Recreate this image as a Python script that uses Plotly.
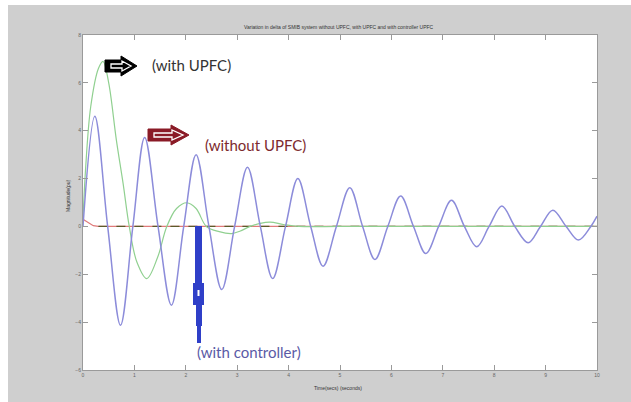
import plotly.graph_objects as go

# ---------------- data ----------------
t_blue = [0, 0.23, 0.48, 0.73, 0.97, 1.2, 1.46, 1.72, 1.96, 2.2, 2.45, 2.7, 2.95, 3.2,
          3.45, 3.69, 3.94, 4.18, 4.43, 4.67, 4.93, 5.19, 5.44, 5.68, 5.93, 6.18, 6.43,
          6.67, 6.92, 7.17, 7.42, 7.66, 7.9, 8.15, 8.4, 8.66, 8.9, 9.14, 9.4, 9.64, 9.88, 10]
v_blue = [0, 4.6, 0, -4.13, 0, 3.72, 0, -3.29, 0, 3.0, 0, -2.64, 0, 2.47,
          0, -2.18, 0, 2.0, 0, -1.66, 0, 1.62, 0, -1.38, 0, 1.27, 0,
          -1.13, 0, 1.09, 0, -0.85, 0, 0.85, 0, -0.68, 0, 0.68, 0, -0.57, 0, 0.43]

t_green = [0, 0.05, 0.15, 0.3, 0.39, 0.5, 0.65, 0.78, 0.9, 1.05, 1.24, 1.45, 1.63, 1.82,
           2.02, 2.2, 2.4, 2.65, 2.89, 3.05, 3.25, 3.45, 3.64, 3.9, 4.2, 5, 6, 7, 8, 9, 10]
v_green = [0.3, 2.4, 5.0, 6.6, 6.9, 6.0, 3.6, 1.8, 0, -1.5, -2.18, -1.3, 0, 0.75,
           0.99, 0.75, 0, -0.22, -0.3, -0.2, 0, 0.13, 0.18, 0.08, 0, 0, 0, 0, 0, 0, 0]

t_red = [0, 0.1, 0.2, 0.3, 1, 2, 3, 4, 5, 6, 7, 8, 9, 10]
v_red = [0.3, 0.15, 0.03, 0, 0, 0, 0, 0, 0, 0, 0, 0, 0, 0]

t_ctrl = [0.3, 10]
v_ctrl = [0, 0]

x_ticks = [0, 1, 2, 3, 4, 5, 6, 7, 8, 9, 10]
y_ticks = [-6, -4, -2, 0, 2, 4, 6, 8]

title_text = "Variation in delta of SMIB system without UPFC, with UPFC and with controller UPFC"
x_title = "Time(secs) (seconds)"
y_title = "Magnitude(pu)"

# ---------------- figure ----------------
W, H = 631, 402
L, R, T, B = 83, 34, 35, 32
pw, ph = W - L - R, H - T - B


def px(xp):
    return (xp - L) / pw


def py(yp):
    return (H - B - yp) / ph


fig = go.Figure()
fig.add_trace(go.Scatter(x=t_red, y=v_red, mode="lines",
                         line=dict(color="#e07a7a", width=1.2)))
fig.add_trace(go.Scatter(x=t_ctrl, y=v_ctrl, mode="lines",
                         line=dict(color="#5b5b2a", width=1.2, dash="dash")))
fig.add_trace(go.Scatter(x=t_green, y=v_green, mode="lines", line_shape="spline",
                         line=dict(color="#90d090", width=1.2)))
fig.add_trace(go.Scatter(x=t_blue, y=v_blue, mode="lines", line_shape="spline",
                         line=dict(color="#8c8cda", width=1.5)))

axis_common = dict(showgrid=False, zeroline=False, showline=True, linecolor="#9a9a9a",
                   linewidth=1, mirror="ticks", ticks="inside", ticklen=5, automargin=False,
                   tickcolor="#9a9a9a", tickfont=dict(size=5, color="#666", family="Liberation Sans"))

fig.update_xaxes(range=[0, 10], tickvals=x_ticks, **axis_common)
fig.update_yaxes(range=[-6, 8], tickvals=y_ticks, **axis_common)

shapes = []
# white outer edges
shapes.append(dict(type="rect", xref="paper", yref="paper", x0=px(0), x1=px(8), y0=py(H), y1=py(0),
                   fillcolor="white", line_width=0, layer="below"))
shapes.append(dict(type="rect", xref="paper", yref="paper", x0=px(0), x1=px(W), y0=py(5), y1=py(0),
                   fillcolor="white", line_width=0, layer="below"))


def block_arrow(x0, x1, xh, yc, bh, hh):
    pts = [(x0, yc - bh), (xh, yc - bh), (xh, yc - hh), (x1, yc), (xh, yc + hh), (xh, yc + bh), (x0, yc + bh)]
    return "M " + " L ".join(f"{px(a):.5f},{py(b):.5f}" for a, b in pts) + " Z"


# black arrow
shapes.append(dict(type="path", xref="paper", yref="paper", path=block_arrow(105, 137, 121, 66, 6, 10),
                   fillcolor="black", line=dict(color="black", width=1)))
shapes.append(dict(type="path", xref="paper", yref="paper", path=block_arrow(111, 131, 122, 66, 2, 5),
                   fillcolor="rgba(0,0,0,0)", line=dict(color="white", width=1.3)))
# dark red arrow
shapes.append(dict(type="path", xref="paper", yref="paper", path=block_arrow(148, 189, 171, 135, 6, 10),
                   fillcolor="#8a1a26", line=dict(color="#8a1a26", width=1)))
shapes.append(dict(type="path", xref="paper", yref="paper", path=block_arrow(154, 183, 172, 135, 2, 5),
                   fillcolor="rgba(0,0,0,0)", line=dict(color="white", width=1.3)))
# blue bar
bar_col = "#2f3fc8"
shapes.append(dict(type="rect", xref="paper", yref="paper", x0=px(195), x1=px(202), y0=py(283), y1=py(226),
                   fillcolor=bar_col, line_width=0))
shapes.append(dict(type="rect", xref="paper", yref="paper", x0=px(193), x1=px(204), y0=py(305), y1=py(283),
                   fillcolor=bar_col, line_width=0))
shapes.append(dict(type="rect", xref="paper", yref="paper", x0=px(196), x1=px(202), y0=py(326), y1=py(305),
                   fillcolor=bar_col, line_width=0))
shapes.append(dict(type="rect", xref="paper", yref="paper", x0=px(197), x1=px(201), y0=py(343), y1=py(326),
                   fillcolor=bar_col, line_width=0))
shapes.append(dict(type="rect", xref="paper", yref="paper", x0=px(197.5), x1=px(199.5), y0=py(296), y1=py(290),
                   fillcolor="white", line_width=0))
fig.update_layout(shapes=shapes)

ann_font = "Lato"


def label(xp, yp, text, size, color, family=ann_font, angle=0):
    fig.add_annotation(xref="paper", yref="paper", x=px(xp), y=py(yp), text=text, showarrow=False,
                       xanchor="center", yanchor="middle", textangle=angle,
                       font=dict(family=family, size=size, color=color))


label(191, 65, "(with UPFC)", 15, "#333333")
label(255, 145, "(without UPFC)", 15, "#7d2a2e")
label(249, 352, "(with controller)", 15, "#5a5aa6")
label(339, 27, title_text, 5, "#333", "Liberation Sans")
label(338, 388, x_title, 5, "#333", "Liberation Sans")
label(68, 196, y_title, 5, "#333", "Liberation Sans", -90)

fig.update_layout(width=W, height=H, margin=dict(l=L, r=R, t=T, b=B),
                  paper_bgcolor="#cfcfcf", plot_bgcolor="white", showlegend=False)

fig.write_html("out.html", config={"displayModeBar": False},
               post_script="document.body.style.margin='0px';document.body.style.overflow='hidden';")
